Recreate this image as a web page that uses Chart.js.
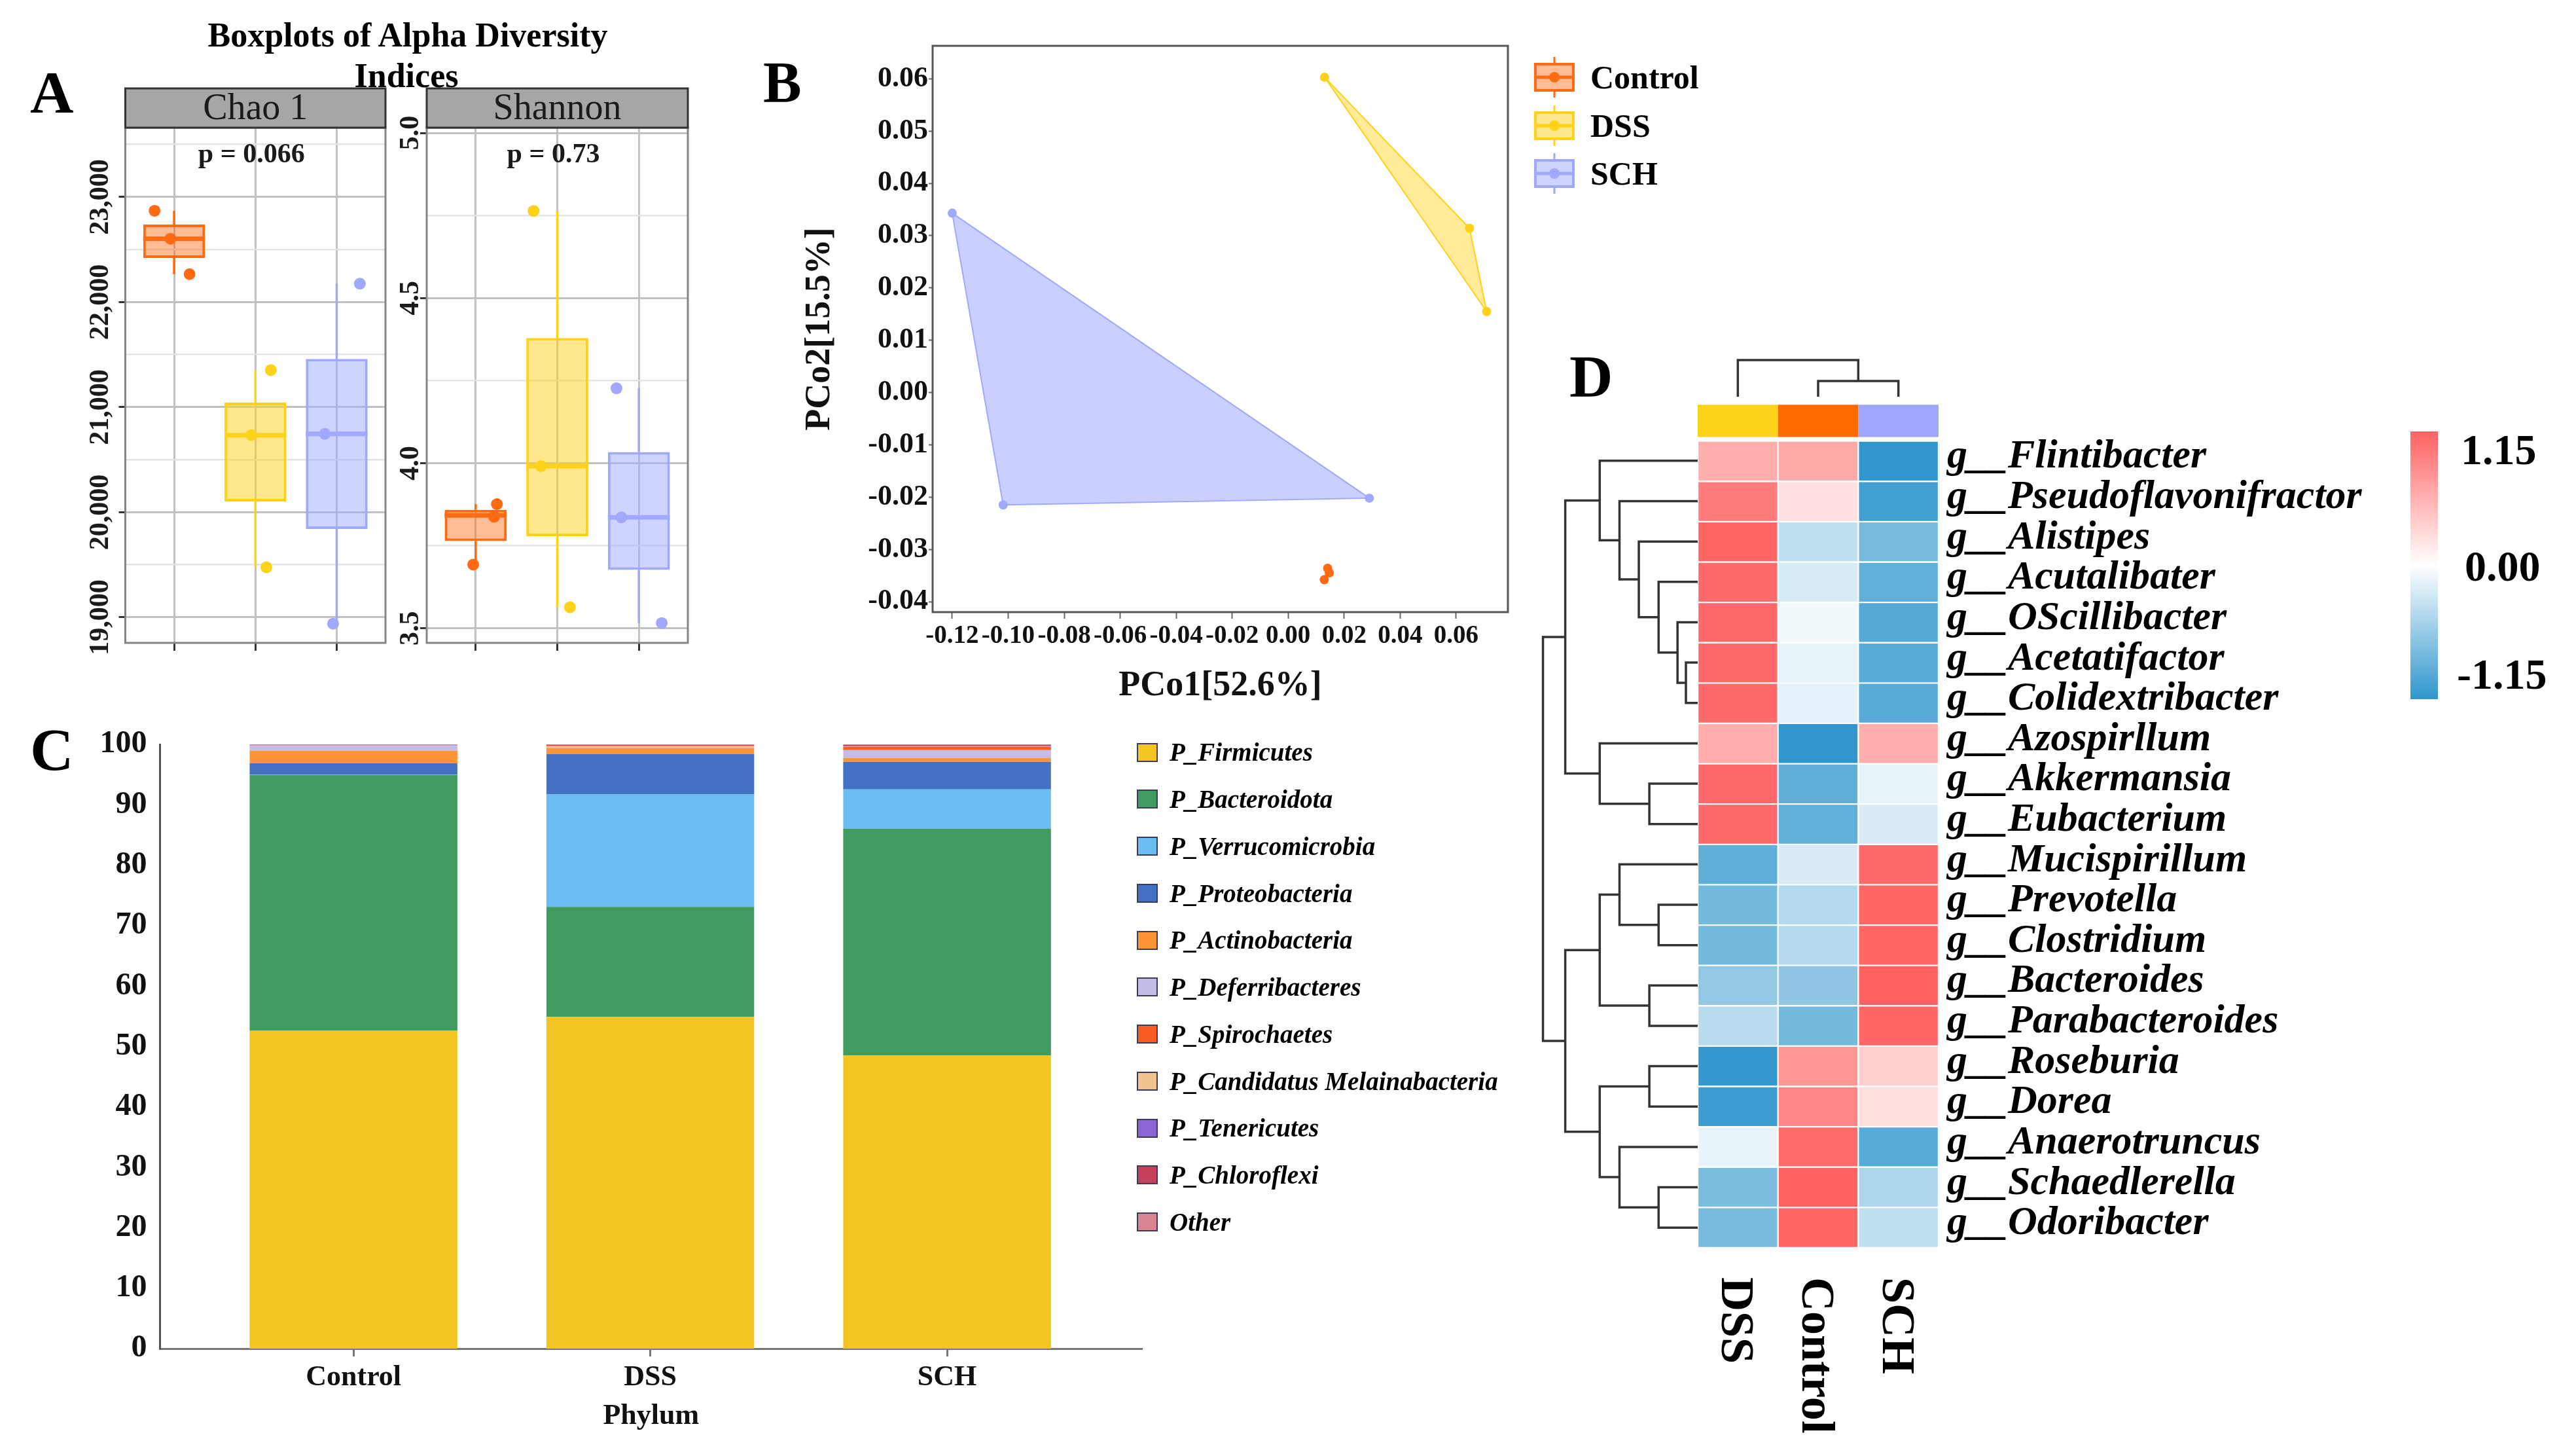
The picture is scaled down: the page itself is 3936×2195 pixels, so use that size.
<!DOCTYPE html>
<html>
<head>
<meta charset="utf-8">
<title>Gut microbiota – alpha/beta diversity, phylum composition, genus heatmap</title>
<script src="https://cdn.jsdelivr.net/npm/chart.js@4.4.1/dist/chart.umd.min.js"></script>
<style>
  html, body { margin: 0; padding: 0; background: #fff; }
  body { position: relative; width: 3936px; height: 2195px; overflow: hidden;
         font-family: "Liberation Serif", "Times New Roman", serif; color: #000; }
  canvas { position: absolute; }
  .txt { position: absolute; line-height: 1; white-space: nowrap; color: #000; }
  .key { position: absolute; box-sizing: border-box; border: 2px solid #3c3c55; }
</style>
</head>
<body>
<script>
// ---------- data ----------
const groups = ["Control", "DSS", "SCH"];
const groupColors = ["#ff6a13", "#ffd21a", "#a0a8ff"];
const groupFills = ["rgba(255,106,19,0.45)", "rgba(255,210,26,0.5)", "rgba(160,168,255,0.5)"];
const hullFills = ["rgba(255,106,19,0.4)", "rgba(255,210,26,0.45)", "rgba(160,168,255,0.55)"];

// A: box stats per group [min, q1, median, q3, max] + the raw samples
const chaoStats = [[22266, 22421, 22603, 22738, 22869], [19476, 20103, 20734, 21044, 21353], [18940, 19841, 20746, 21460, 22175]];
const chaoPoints = [[22869, 22603, 22266], [21353, 20734, 19476], [22175, 20746, 18940]];
const chaoJitter = [[-0.24, -0.045, 0.19], [0.19, -0.05, 0.135], [0.285, -0.145, -0.045]];
const chaoTicks = [19000, 19500, 20000, 20500, 21000, 21500, 22000, 22500, 23000, 23500];

const shannonStats = [[3.693, 3.764, 3.842, 3.859, 3.876], [3.564, 3.779, 3.991, 4.379, 4.764], [3.516, 3.677, 3.836, 4.034, 4.227]];
const shannonPoints = [[3.876, 3.838, 3.693], [4.764, 3.991, 3.564], [4.227, 3.836, 3.516]];
const shannonJitter = [[0.26, 0.225, -0.03], [-0.29, -0.2, 0.155], [-0.275, -0.215, 0.28]];
const shannonTicks = [3.5, 3.75, 4.0, 4.25, 4.5, 4.75, 5.0];

// B: PCoA coordinates per group
const pco1 = [[0.0141, 0.0147, 0.0129], [0.013, 0.0648, 0.0709], [-0.12, -0.1018, 0.029]];
const pco2 = [[-0.0336, -0.0345, -0.0358], [0.0603, 0.0314, 0.0155], [0.0343, -0.0215, -0.0202]];
const pcoXTicks = [-0.12, -0.10, -0.08, -0.06, -0.04, -0.02, 0.00, 0.02, 0.04, 0.06];
const pcoYTicks = [-0.04, -0.03, -0.02, -0.01, 0.00, 0.01, 0.02, 0.03, 0.04, 0.05, 0.06];

// C: relative abundance (%) by phylum
const phyla = ["P_Firmicutes", "P_Bacteroidota", "P_Verrucomicrobia", "P_Proteobacteria", "P_Actinobacteria",
  "P_Deferribacteres", "P_Spirochaetes", "P_Candidatus Melainabacteria", "P_Tenericutes", "P_Chloroflexi", "Other"];
const phylaColors = ["#f2c523", "#3f9b5f", "#6bbcf0", "#4470c4", "#fd9536", "#c3bde8", "#fb5c22", "#f2c38e", "#8c64d4", "#c5405c", "#d98493"];
const phylaControl = [52.6, 42.3, 0.05, 1.9, 2.1, 0.8, 0.0, 0.05, 0.1, 0.0, 0.1];
const phylaDSS = [54.9, 18.2, 18.6, 6.7, 1.0, 0.15, 0.05, 0.1, 0.05, 0.15, 0.1];
const phylaSCH = [48.5, 37.55, 6.5, 4.55, 0.65, 1.3, 0.55, 0.05, 0.05, 0.2, 0.1];
const pctTicks = [0, 10, 20, 30, 40, 50, 60, 70, 80, 90, 100];

// D: z-scored genus abundance, clustered
const genera = ["Flintibacter", "Pseudoflavonifractor", "Alistipes", "Acutalibater", "OScillibacter", "Acetatifactor",
  "Colidextribacter", "Azospirllum", "Akkermansia", "Eubacterium", "Mucispirillum", "Prevotella", "Clostridium",
  "Bacteroides", "Parabacteroides", "Roseburia", "Dorea", "Anaerotruncus", "Schaedlerella", "Odoribacter"];
const heatCols = ["DSS", "Control", "SCH"];
const heatColColors = ["#ffd21a", "#ff6a00", "#9fa6ff"];
const heatDSS = [0.59, 0.96, 1.13, 1.1, 1.1, 1.1, 1.1, 0.6, 1.1, 1.1, -0.89, -0.77, -0.77, -0.6, -0.39, -1.13, -1.08, -0.12, -0.73, -0.75];
const heatControl = [0.63, 0.23, -0.35, -0.22, -0.07, -0.13, -0.14, -1.15, -0.88, -0.87, -0.21, -0.42, -0.42, -0.62, -0.77, 0.78, 0.88, 1.09, 1.15, 1.11];
const heatSCH = [-1.15, -1.05, -0.76, -0.87, -0.94, -0.92, -0.92, 0.6, -0.13, -0.21, 1.1, 1.12, 1.12, 1.15, 1.12, 0.36, 0.24, -0.92, -0.45, -0.35];
// merges: [childA, childB, height]; leaves are 0..n-1, new nodes numbered from n
const rowMerges = [[5, 6, 0.28], [4, 20, 0.48], [3, 21, 0.93], [2, 22, 1.40], [1, 23, 1.86], [0, 24, 2.33],
  [8, 9, 1.15], [7, 26, 2.33], [25, 27, 3.15], [11, 12, 0.93], [10, 29, 1.86], [13, 14, 1.15], [30, 31, 2.33],
  [15, 16, 1.15], [18, 19, 0.93], [17, 34, 1.86], [33, 35, 2.33], [32, 36, 3.15], [28, 37, 3.68]];
const colMerges = [[1, 2, 0.43], [0, 3, 1.0]];
const heatLegend = ["1.15", "0.00", "-1.15"];

// ---------- helpers ----------
Chart.defaults.font.family = "'Liberation Serif', 'Times New Roman', serif";
Chart.defaults.color = '#111';
Chart.defaults.animation = false;
Chart.defaults.events = [];
Chart.defaults.responsive = false;
Chart.defaults.maintainAspectRatio = false;
Chart.defaults.devicePixelRatio = 1;
Chart.defaults.plugins.legend.display = false;
Chart.defaults.plugins.tooltip.enabled = false;

function cv(left, top, w, h) {
  const c = document.createElement('canvas');
  c.width = w; c.height = h;
  Object.assign(c.style, { left: left + 'px', top: top + 'px', width: w + 'px', height: h + 'px' });
  document.body.appendChild(c);
  return c;
}

function txt(str, x, baseline, size, o = {}) {
  const d = document.createElement('div');
  d.className = 'txt';
  d.textContent = str;
  d.style.fontSize = size + 'px';
  d.style.top = (baseline - 0.8375 * size) + 'px';
  if (o.center) { d.style.left = (x - 1000) + 'px'; d.style.width = '2000px'; d.style.textAlign = 'center'; }
  else d.style.left = x + 'px';
  d.style.fontWeight = o.weight || 'bold';
  if (o.italic) d.style.fontStyle = 'italic';
  document.body.appendChild(d);
  return d;
}

const fixW = w => ax => { ax.width = w; ax.paddingTop = 0; ax.paddingBottom = 0; };
const fixH = h => ax => { ax.height = h; ax.paddingLeft = 0; ax.paddingRight = 0; };
const setTicks = list => ax => { ax.ticks = list.map(value => ({ value })); };

function heatColor(v) {
  const t = Math.max(-1, Math.min(1, v / 1.15));
  const end = t < 0 ? [48, 150, 205] : [255, 98, 98];
  const a = Math.abs(t);
  return 'rgb(' + end.map(e => Math.round(255 + (e - 255) * a)).join(',') + ')';
}

// dendrogram -> polyline points (null y breaks the line)
function dendroSegments(merges, nLeaves, horizontal) {
  const pos = [], ht = [], pts = [];
  for (let i = 0; i < nLeaves; i++) { pos[i] = i; ht[i] = 0; }
  merges.forEach(([a, b, h], k) => {
    const id = nLeaves + k;
    pos[id] = (pos[a] + pos[b]) / 2; ht[id] = h;
    [[ht[a], pos[a]], [h, pos[a]], [h, pos[b]], [ht[b], pos[b]]].forEach(([hh, pp]) =>
      pts.push(horizontal ? { x: hh, y: pp } : { x: pp, y: hh }));
    pts.push(horizontal ? { x: h, y: null } : { x: pos[id], y: null });
  });
  return pts;
}

// panel border on top of everything
const panelBox = {
  id: 'panelBox',
  afterDraw(chart, args, opts) {
    if (!opts.color) return;
    const { ctx, chartArea: a } = chart;
    ctx.save();
    ctx.strokeStyle = opts.color; ctx.lineWidth = opts.width;
    ctx.strokeRect(a.left, a.top, a.right - a.left, a.bottom - a.top);
    ctx.restore();
  }
};

// ggplot facet strip + p value
const facetStrip = {
  id: 'facetStrip',
  afterDraw(chart, args, opts) {
    const { ctx, chartArea: a, scales } = chart;
    ctx.save();
    ctx.fillStyle = '#a6a6a6';
    ctx.fillRect(a.left, a.top - 60, a.right - a.left, 60);
    ctx.strokeStyle = '#333'; ctx.lineWidth = 3;
    ctx.strokeRect(a.left, a.top - 60, a.right - a.left, 60);
    ctx.fillStyle = '#1a1a1a';
    ctx.textAlign = 'center'; ctx.textBaseline = 'middle';
    ctx.font = "56px 'Liberation Serif'";
    ctx.fillText(opts.label, (a.left + a.right) / 2, a.top - 28);
    ctx.font = "bold 42px 'Liberation Serif'";
    ctx.fillText(opts.note, scales.x.getPixelForValue(2) - 6, a.top + 42);
    ctx.restore();
  }
};

// ---------- A: boxplots ----------
function boxChart(canvas, stats, points, jitter, yMin, yMax, ticks, isMajor, fmt, axisW, padRight, labelPad, label, note) {
  const datasets = [{
    type: 'bar', order: 5, grouped: false,
    data: stats.map((s, i) => ({ x: i + 1, y: [s[1], s[3]] })),
    backgroundColor: groupFills, borderColor: groupColors, borderWidth: 4, borderSkipped: false,
    barPercentage: 0.76, categoryPercentage: 1
  }];
  stats.forEach((s, i) => {
    datasets.push({
      type: 'line', order: 4, borderColor: groupColors[i], borderWidth: 3.5, pointRadius: 0, spanGaps: false,
      data: [{ x: i + 1, y: s[0] }, { x: i + 1, y: s[1] }, { x: i + 1, y: null }, { x: i + 1, y: s[3] }, { x: i + 1, y: s[4] }]
    });
    datasets.push({
      type: 'line', order: 3, borderColor: groupColors[i], borderWidth: 7, pointRadius: 0,
      data: [{ x: i + 1 - 0.38, y: s[2] }, { x: i + 1 + 0.38, y: s[2] }]
    });
    datasets.push({
      type: 'scatter', order: 1, backgroundColor: groupColors[i], borderWidth: 0, pointRadius: 9,
      data: points[i].map((v, k) => ({ x: i + 1 + jitter[i][k], y: v }))
    });
  });
  return new Chart(canvas, {
    type: 'bar',
    data: { datasets },
    options: {
      layout: { padding: { top: 75, right: padRight, bottom: 0, left: 0 } },
      scales: {
        x: {
          type: 'linear', min: 0.4, max: 3.6, offset: false,
          afterBuildTicks: setTicks([1, 2, 3]), afterFit: fixH(38),
          grid: { offset: false, color: '#c2c2c2', lineWidth: 3, tickLength: 12, tickColor: '#333', tickWidth: 3 },
          border: { display: false },
          ticks: { display: false }
        },
        y: {
          type: 'linear', min: yMin, max: yMax,
          afterBuildTicks: setTicks(ticks), afterFit: fixW(axisW),
          grid: {
            color: c => (c.tick && isMajor(c.tick.value)) ? '#c2c2c2' : '#e4e4e4',
            lineWidth: c => (c.tick && isMajor(c.tick.value)) ? 3 : 2.5,
            tickLength: 10, tickWidth: 3,
            tickColor: c => (c.tick && isMajor(c.tick.value)) ? '#333' : 'rgba(0,0,0,0)'
          },
          border: { display: false },
          ticks: {
            autoSkip: false, minRotation: 90, maxRotation: 90, crossAlign: 'center', padding: labelPad,
            color: '#1a1a1a', font: { size: 42, weight: 'bold' },
            callback: v => isMajor(v) ? fmt(v) : ''
          }
        }
      },
      plugins: { panelBox: { color: '#858585', width: 3 }, facetStrip: { label, note } }
    },
    plugins: [panelBox, facetStrip]
  });
}

boxChart(cv(100, 120, 500, 900), chaoStats, chaoPoints, chaoJitter, 18757, 23660, chaoTicks,
  v => v % 1000 === 0, v => v.toLocaleString('en-US'), 91.5, 11, -30, 'Chao 1', 'p = 0.066');
boxChart(cv(560, 120, 500, 900), shannonStats, shannonPoints, shannonJitter, 3.456, 5.016, shannonTicks,
  v => Math.abs(v * 2 - Math.round(v * 2)) < 1e-9, v => v.toFixed(1), 92, 9, -12, 'Shannon', 'p = 0.73');

txt('Boxplots of Alpha Diversity', 623, 72, 52, { center: true });
txt('Indices', 621, 134, 52, { center: true });
txt('A', 46, 172, 92);

// ---------- B: PCoA ----------
new Chart(cv(1200, 30, 1150, 1090), {
  type: 'scatter',
  data: {
    datasets: [
      ...groups.map((g, i) => ({
        label: g + ' hull', order: 2, showLine: true, fill: 'shape',
        backgroundColor: hullFills[i], borderColor: groupColors[i], borderWidth: 2, pointRadius: 0,
        data: [0, 1, 2, 0].map(k => ({ x: pco1[i][k], y: pco2[i][k] }))
      })),
      ...groups.map((g, i) => ({
        label: g, order: 1, backgroundColor: groupColors[i], borderWidth: 0, pointRadius: 7,
        data: pco1[i].map((x, k) => ({ x, y: pco2[i][k] }))
      }))
    ]
  },
  options: {
    layout: { padding: { top: 40, right: 46, bottom: 0, left: 0 } },
    scales: {
      x: {
        type: 'linear', min: -0.127, max: 0.0785,
        afterBuildTicks: setTicks(pcoXTicks), afterFit: fixH(185),
        grid: { drawOnChartArea: false, tickLength: 10, tickColor: '#666', tickWidth: 2 },
        border: { display: false },
        ticks: { autoSkip: false, maxRotation: 0, padding: 4, color: '#111', font: { size: 39, weight: 'bold' }, callback: v => v.toFixed(2) },
        title: { display: true, text: 'PCo1[52.6%]', color: '#111', font: { size: 54, weight: 'bold' }, padding: { top: 0, bottom: 40 } }
      },
      y: {
        type: 'linear', min: -0.042, max: 0.0663,
        afterBuildTicks: setTicks(pcoYTicks), afterFit: fixW(225),
        grid: { drawOnChartArea: false, tickLength: 6, tickColor: '#666', tickWidth: 2 },
        border: { display: false },
        ticks: { autoSkip: false, padding: 1, color: '#111', font: { size: 44, weight: 'bold' }, callback: v => v.toFixed(2) },
        title: { display: true, text: 'PCo2[15.5%]', color: '#111', font: { size: 54, weight: 'bold' }, padding: { top: 21, bottom: 0 } }
      }
    },
    plugins: { panelBox: { color: '#555', width: 3 } }
  },
  plugins: [panelBox]
});
txt('B', 1166, 156, 88);

// legend B: boxplot keys
groups.forEach((g, i) => {
  const cy = 118 + i * 73.5;
  const c = cv(2342, cy - 33, 66, 66);
  const k = c.getContext('2d');
  k.strokeStyle = groupColors[i];
  k.lineWidth = 3;
  k.beginPath(); k.moveTo(33, 2); k.lineTo(33, 13); k.moveTo(33, 53); k.lineTo(33, 64); k.stroke();
  k.fillStyle = groupFills[i]; k.fillRect(4, 13, 58, 40);
  k.lineWidth = 4; k.strokeRect(4, 13, 58, 40);
  k.lineWidth = 5; k.beginPath(); k.moveTo(4, 33); k.lineTo(62, 33); k.stroke();
  k.fillStyle = groupColors[i]; k.beginPath(); k.arc(33, 33, 8, 0, 2 * Math.PI); k.fill();
  txt(g, 2430, cy + 17, 50);
});

// ---------- C: stacked phylum bars ----------
new Chart(cv(0, 1090, 1760, 1105), {
  type: 'bar',
  data: {
    datasets: phyla.map((p, k) => ({
      label: p, backgroundColor: phylaColors[k], borderWidth: 0, barPercentage: 0.7, categoryPercentage: 1,
      data: [phylaControl[k], phylaDSS[k], phylaSCH[k]].map((v, i) => ({ x: i + 1, y: v }))
    }))
  },
  options: {
    layout: { padding: { top: 47, right: 15, bottom: 0, left: 0 } },
    scales: {
      x: {
        type: 'linear', stacked: true, min: 0.348, max: 3.657, offset: false,
        afterBuildTicks: setTicks([1, 2, 3]), afterFit: fixH(135),
        grid: { offset: false, drawOnChartArea: false, tickLength: 12, tickColor: '#777', tickWidth: 3 },
        border: { display: true, color: '#777', width: 3 },
        ticks: { autoSkip: false, maxRotation: 0, padding: 6, color: '#111', font: { size: 44, weight: 'bold' },
          callback: v => groups[v - 1] },
        title: { display: true, text: 'Phylum', color: '#111', font: { size: 44, weight: 'bold' }, padding: { top: 0, bottom: 5 } }
      },
      y: {
        type: 'linear', stacked: true, min: 0, max: 100,
        afterBuildTicks: setTicks(pctTicks), afterFit: fixW(244.5),
        grid: { display: false, drawTicks: false },
        border: { display: true, color: '#555', width: 3 },
        ticks: { autoSkip: false, padding: 20, color: '#111', font: { size: 48, weight: 'bold' } }
      }
    }
  }
});
txt('C', 46, 1176, 92);

// legend C
phyla.forEach((p, k) => {
  const cy = 1149 + k * 71.75;
  const d = document.createElement('div');
  d.className = 'key';
  Object.assign(d.style, { left: '1737px', top: (cy - 14.5) + 'px', width: '32px', height: '29px', background: phylaColors[k] });
  document.body.appendChild(d);
  txt(p, 1787, cy + 13, 39, { italic: true });
});

// ---------- D: clustered heatmap ----------
const heatCells = [];
[heatDSS, heatControl, heatSCH].forEach((col, c) => col.forEach((v, r) => heatCells.push({ x: [c - 0.5, c + 0.5], y: r, v })));
const annotCells = heatCols.map((n, c) => ({ x: [c - 0.5, c + 0.5], y: -1 }));

const heatChart = new Chart(cv(2594, 600, 1100, 1320), {
  type: 'bar',
  data: {
    datasets: [
      { data: heatCells, grouped: false, backgroundColor: c => c.raw ? heatColor(c.raw.v) : '#fff',
        borderColor: '#fff', borderWidth: 1.5, borderSkipped: false, barPercentage: 1, categoryPercentage: 1 },
      { data: annotCells, grouped: false, backgroundColor: heatColColors, borderWidth: 0, barPercentage: 0.8, categoryPercentage: 1 }
    ]
  },
  options: {
    indexAxis: 'y',
    layout: { padding: { top: 12, right: 0, bottom: 14, left: 0 } },
    scales: {
      x: { type: 'linear', display: false, min: -0.5, max: 2.5 },
      y: {
        type: 'linear', position: 'right', reverse: true, min: -1.5, max: 19.5, offset: false,
        afterBuildTicks: setTicks(genera.map((g, i) => i)), afterFit: fixW(732),
        grid: { display: false, drawTicks: false, offset: false },
        border: { display: false },
        ticks: { autoSkip: false, padding: 13, labelOffset: -6, color: '#000',
          font: { size: 62, style: 'italic', weight: 'bold' }, callback: v => 'g__' + genera[v] }
      }
    }
  }
});

new Chart(cv(2340, 660, 260, 1260), {
  type: 'scatter',
  data: { datasets: [{ data: dendroSegments(rowMerges, genera.length, true), showLine: true, spanGaps: false,
    borderColor: '#333', borderWidth: 3.5, pointRadius: 0, clip: false }] },
  options: {
    layout: { padding: { top: 13, right: 6, bottom: 14, left: 15 } },
    scales: {
      x: { type: 'linear', display: false, reverse: true, min: 0, max: 3.72 },
      y: { type: 'linear', display: false, reverse: true, min: -0.5, max: 19.5 }
    }
  }
});

new Chart(cv(2594, 540, 368, 72), {
  type: 'scatter',
  data: { datasets: [{ data: dendroSegments(colMerges, heatCols.length, false), showLine: true, spanGaps: false,
    borderColor: '#333', borderWidth: 3.5, pointRadius: 0, clip: false }] },
  options: {
    layout: { padding: { top: 10, right: 0, bottom: 6, left: 0 } },
    scales: {
      x: { type: 'linear', display: false, min: -0.5, max: 2.5 },
      y: { type: 'linear', display: false, min: 0, max: 1 }
    }
  }
});

// column labels, rotated, read top-to-bottom
heatCols.forEach((n, c) => {
  const cx = 2594 + heatChart.scales.x.getPixelForValue(c);
  const d = txt(n, cx + 36, 1951 + 0.8375 * 72, 72);
  d.style.transformOrigin = '0 0';
  d.style.transform = 'rotate(90deg)';
});
txt('D', 2398, 606, 92);

// colour key
const bar = document.createElement('div');
Object.assign(bar.style, { position: 'absolute', left: '3683px', top: '659px', width: '42px', height: '409px',
  background: 'linear-gradient(to bottom, ' + heatColor(1.15) + ' 0%, #ffffff 50%, ' + heatColor(-1.15) + ' 100%)' });
document.body.appendChild(bar);
txt(heatLegend[0], 3760, 709, 66);
txt(heatLegend[1], 3766, 887, 66);
txt(heatLegend[2], 3754, 1052, 66);
</script>
</body>
</html>
